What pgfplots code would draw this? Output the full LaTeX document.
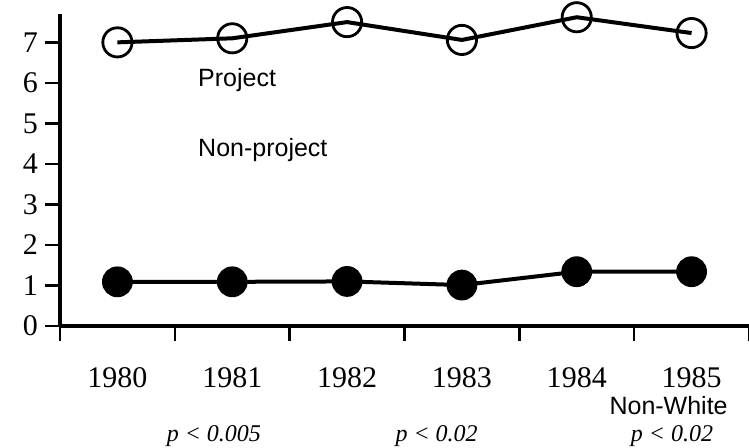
\documentclass[border=0pt]{standalone}
\usepackage{fontspec}
\setmainfont{Liberation Serif}
\newfontfamily\labelsans{Liberation Sans}
\usepackage{pgfplots}
\usepackage{pgfplotstable}
\pgfplotsset{compat=1.18}

% year index 0 = 1980
\pgfplotstableread{
x y
0 7.00
1 7.10
2 7.50
3 7.06
4 7.62
5 7.23
}\project

\pgfplotstableread{
x y
0 1.09
1 1.09
2 1.10
3 1.01
4 1.34
5 1.34
}\nonproject

\begin{document}
\begin{tikzpicture}
\path[use as bounding box] (-30pt,-61pt) rectangle (344.5pt,163pt);
\begin{axis}[
    scale only axis,
    width=344.5pt, height=156pt,
    xmin=-0.5, xmax=5.5,
    ymin=0, ymax=7.7,
    axis x line=bottom, axis y line=left,
    axis line style={-, line width=1.6pt},
    tick align=outside,
    xtick={-0.5,0.5,...,5.5},
    xticklabels={},
    extra x ticks={0,...,5},
    extra x tick labels={1980,1981,1982,1983,1984,1985},
    extra x tick style={major tick length=0pt, tick style={draw=none},
        xticklabel style={yshift=-17pt}},
    ytick={0,...,7},
    major tick length=7.5pt,
    tick style={black, line width=1.2pt},
    ticklabel style={font=\fontsize{15}{17}\selectfont},
    /pgf/number format/assume math mode=true,
    clip=false,
]
    \addplot[black, line width=2pt, mark=o, mark size=7.3pt,
        mark options={line width=1.4pt}] table {\project};
    \addplot[black, line width=2pt, mark=*, mark size=6.7pt] table {\nonproject};

    \begin{scope}[every node/.style={inner sep=0pt}]
    \node[anchor=west, font=\labelsans\fontsize{12.5}{14}\selectfont] at (axis cs:0.7,6.07) {Project};
    \node[anchor=west, font=\labelsans\fontsize{12.5}{14}\selectfont] at (axis cs:0.7,4.35) {Non-project};
    \node[font=\labelsans\fontsize{12.5}{14}\selectfont] at (axis cs:4.8,-1.97) {Non-White};
    \node[font=\itshape\fontsize{12}{14}\selectfont] at (axis cs:0.84,-2.72) {p < 0.005};
    \node[font=\itshape\fontsize{12}{14}\selectfont] at (axis cs:2.78,-2.72) {p < 0.02};
    \node[font=\itshape\fontsize{12}{14}\selectfont] at (axis cs:4.83,-2.72) {p < 0.02};
    \end{scope}
\end{axis}
\end{tikzpicture}
\end{document}
